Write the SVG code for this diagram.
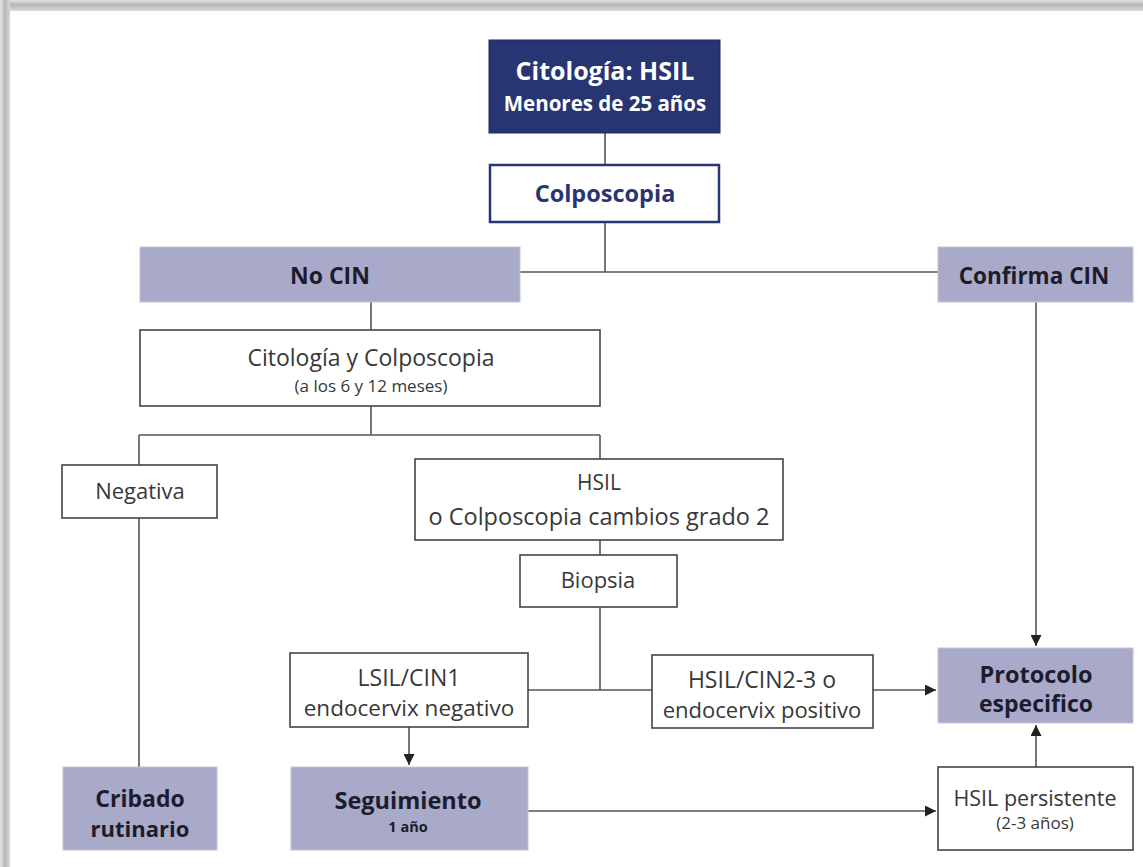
<svg xmlns="http://www.w3.org/2000/svg" width="1143" height="867" viewBox="0 0 1143 867">
  <defs>
    <linearGradient id="shadeTop" x1="0" y1="0" x2="0" y2="1">
      <stop offset="0" stop-color="#e2e2e2"/>
      <stop offset="0.45" stop-color="#b4b4b4"/>
      <stop offset="1" stop-color="#dcdcdc"/>
    </linearGradient>
    <linearGradient id="shadeLeft" x1="0" y1="0" x2="1" y2="0">
      <stop offset="0" stop-color="#e4e4e4"/>
      <stop offset="0.5" stop-color="#b8b8b8"/>
      <stop offset="1" stop-color="#d8d8d8"/>
    </linearGradient>
    <marker id="arrow" viewBox="0 0 10 10" refX="10" refY="5" markerWidth="11" markerHeight="11" markerUnits="userSpaceOnUse" orient="auto">
      <path d="M0,0 L10,5 L0,10 z" fill="#222"/>
    </marker>
    <style>
      .line { fill: none; stroke: #555; stroke-width: 1.6; }
      .box { fill: #ffffff; stroke: #444; stroke-width: 1.6; }
      .key { fill: #a9a9c9; stroke: #c4c4d8; stroke-width: 1; }
      .dark { fill: #273572; stroke: #1e2a5e; stroke-width: 1; }
      .t { font-family: "Open Sans", "Noto Sans", "DejaVu Sans", sans-serif; text-anchor: middle; fill: #383838; }
      .b { font-weight: 700; fill: #1c1c2c; }
      .w { fill: #ffffff; font-weight: 700; }
      .n { fill: #273572; font-weight: 700; }
    </style>
  </defs>

  <!-- page background with soft frame -->
  <rect x="0" y="0" width="1143" height="867" fill="#ffffff"/>
  <rect x="0" y="0" width="1143" height="11" fill="url(#shadeTop)"/>
  <rect x="0" y="0" width="10" height="867" fill="url(#shadeLeft)"/>

  <!-- connectors -->
  <g id="connectors">
    <path class="line" d="M605,133 V164"/>
    <path class="line" d="M605,222 V272"/>
    <path class="line" d="M520,272 H938"/>
    <path class="line" d="M1036,302 V646" marker-end="url(#arrow)"/>
    <path class="line" d="M371,302 V330"/>
    <path class="line" d="M371,406 V435"/>
    <path class="line" d="M139,435 H600"/>
    <path class="line" d="M139,435 V465"/>
    <path class="line" d="M600,435 V459"/>
    <path class="line" d="M139,518 V767"/>
    <path class="line" d="M600,540 V555"/>
    <path class="line" d="M600,607 V690"/>
    <path class="line" d="M528,690 H652"/>
    <path class="line" d="M873,690 H936" marker-end="url(#arrow)"/>
    <path class="line" d="M409,727 V765" marker-end="url(#arrow)"/>
    <path class="line" d="M528,811 H936" marker-end="url(#arrow)"/>
    <path class="line" d="M1036,767 V725" marker-end="url(#arrow)"/>
  </g>

  <g id="hsil-menores">
    <rect class="dark" x="489" y="40" width="231" height="93"/>
    <text class="t w" x="605" y="80" font-size="25">Citología: HSIL</text>
    <text class="t w" x="605" y="111" font-size="20.5">Menores de 25 años</text>
  </g>

  <g id="colposcopia">
    <rect x="490" y="165" width="229" height="57" fill="#ffffff" stroke="#273572" stroke-width="2.5"/>
    <text class="t n" x="605" y="202" font-size="23.5">Colposcopia</text>
  </g>

  <g id="no-cin">
    <rect class="key" x="140" y="247" width="380" height="55"/>
    <text class="t b" x="330" y="284" font-size="23">No CIN</text>
  </g>

  <g id="confirma-cin">
    <rect class="key" x="938" y="247" width="195" height="55"/>
    <text class="t b" x="1034" y="284" font-size="22.5">Confirma CIN</text>
  </g>

  <g id="citologia-colposcopia">
    <rect class="box" x="140" y="330" width="460" height="76"/>
    <text class="t" x="371" y="366" font-size="23">Citología y Colposcopia</text>
    <text class="t" x="371" y="392" font-size="17">(a los 6 y 12 meses)</text>
  </g>

  <g id="negativa">
    <rect class="box" x="62" y="465" width="155" height="53"/>
    <text class="t" x="140" y="499" font-size="22">Negativa</text>
  </g>

  <g id="hsil-grado2">
    <rect class="box" x="415" y="459" width="368" height="81"/>
    <text class="t" x="599" y="490" font-size="21">HSIL</text>
    <text class="t" x="599" y="525" font-size="23.5">o Colposcopia cambios grado 2</text>
  </g>

  <g id="biopsia">
    <rect class="box" x="520" y="555" width="157" height="52"/>
    <text class="t" x="598" y="588" font-size="22">Biopsia</text>
  </g>

  <g id="lsil-cin1">
    <rect class="box" x="290" y="653" width="238" height="74"/>
    <text class="t" x="409" y="686" font-size="23">LSIL/CIN1</text>
    <text class="t" x="409" y="716" font-size="22.5">endocervix negativo</text>
  </g>

  <g id="hsil-cin23">
    <rect class="box" x="652" y="655" width="221" height="73"/>
    <text class="t" x="762" y="688" font-size="23">HSIL/CIN2-3 o</text>
    <text class="t" x="762" y="718" font-size="22">endocervix positivo</text>
  </g>

  <g id="protocolo">
    <rect class="key" x="938" y="648" width="195" height="75"/>
    <text class="t b" x="1036" y="683" font-size="23.5">Protocolo</text>
    <text class="t b" x="1036" y="712" font-size="23">especifico</text>
  </g>

  <g id="cribado">
    <rect class="key" x="63" y="767" width="154" height="83"/>
    <text class="t b" x="140" y="807" font-size="23">Cribado</text>
    <text class="t b" x="140" y="837" font-size="22" font-weight="600">rutinario</text>
  </g>

  <g id="seguimiento">
    <rect class="key" x="291" y="767" width="237" height="83"/>
    <text class="t b" x="408" y="809" font-size="23.5">Seguimiento</text>
    <text class="t b" x="408" y="832" font-size="14.5">1 año</text>
  </g>

  <g id="hsil-persistente">
    <rect class="box" x="938" y="767" width="195" height="83"/>
    <text class="t" x="1035" y="806" font-size="21.5">HSIL persistente</text>
    <text class="t" x="1035" y="829" font-size="17">(2-3 años)</text>
  </g>
</svg>
